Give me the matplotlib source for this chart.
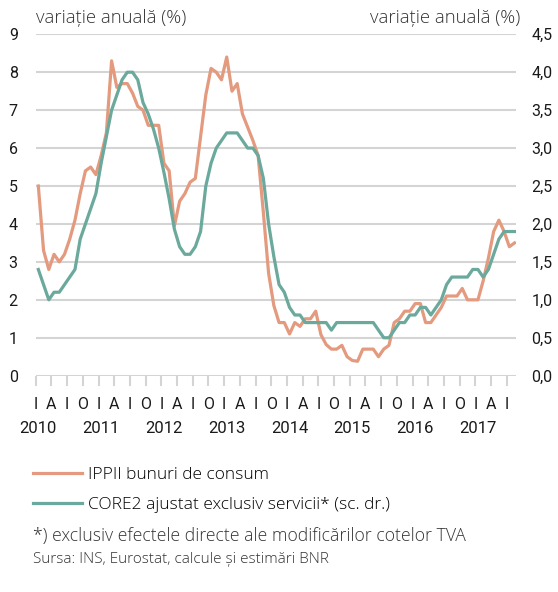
import matplotlib.pyplot as plt
from matplotlib.transforms import blended_transform_factory
import numpy as np

# monthly data, Jan 2010 - Aug 2017
ippii = [5.0, 3.3, 2.8, 3.2, 3.0, 3.2, 3.6, 4.1, 4.8, 5.4, 5.5, 5.3,
         5.8, 6.4, 8.3, 7.6, 7.7, 7.7, 7.45, 7.1, 7.0, 6.6, 6.6, 6.6,
         5.6, 5.4, 3.95, 4.6, 4.8, 5.1, 5.2, 6.3, 7.4, 8.1, 8.0, 7.8,
         8.4, 7.5, 7.7, 6.9, 6.55, 6.2, 5.8, 4.3, 2.7, 1.85, 1.4, 1.4,
         1.1, 1.4, 1.3, 1.5, 1.5, 1.7, 1.08, 0.82, 0.7, 0.7, 0.8, 0.5,
         0.4, 0.38, 0.7, 0.7, 0.7, 0.5, 0.7, 0.8, 1.4, 1.5, 1.7, 1.7,
         1.9, 1.9, 1.4, 1.4, 1.6, 1.8, 2.1, 2.1, 2.1, 2.3, 2.0, 2.0,
         2.0, 2.5, 3.1, 3.8, 4.1, 3.8, 3.4, 3.5]

core2 = [1.4, 1.2, 1.0, 1.1, 1.1, 1.2, 1.3, 1.4, 1.8, 2.0, 2.2, 2.4,
         2.8, 3.15, 3.5, 3.7, 3.9, 4.0, 4.0, 3.9, 3.6, 3.45, 3.25, 3.0,
         2.68, 2.33, 1.93, 1.7, 1.6, 1.6, 1.7, 1.9, 2.5, 2.8, 3.0, 3.1,
         3.2, 3.2, 3.2, 3.1, 3.0, 3.0, 2.9, 2.6, 2.0, 1.57, 1.2, 1.1,
         0.9, 0.8, 0.8, 0.7, 0.7, 0.7, 0.7, 0.7, 0.6, 0.7, 0.7, 0.7,
         0.7, 0.7, 0.7, 0.7, 0.7, 0.6, 0.5, 0.5, 0.6, 0.7, 0.7, 0.8,
         0.8, 0.9, 0.9, 0.8, 0.9, 1.0, 1.2, 1.3, 1.3, 1.3, 1.3, 1.4,
         1.4, 1.3, 1.4, 1.6, 1.8, 1.9, 1.9, 1.9]

quarter_labels = ["I", "A", "I", "O"]
years = ["2010", "2011", "2012", "2013", "2014", "2015", "2016", "2017"]
left_ticks = [0, 1, 2, 3, 4, 5, 6, 7, 8, 9]
right_ticks = [0.0, 0.5, 1.0, 1.5, 2.0, 2.5, 3.0, 3.5, 4.0, 4.5]

orange = "#e39a7e"
green = "#6aa99c"
grid_c = "#d4d4d4"
narrow = ["Roboto", "DejaVu Sans"]
light = ["Open Sans", "DejaVu Sans"]

fig = plt.figure(figsize=(5.58, 5.92), dpi=100)
ax = fig.add_axes([0.064, 0.3654, 0.861, 0.5767])
ax2 = ax.twinx()

x = np.arange(len(ippii))
l1, = ax.plot(x, ippii, color=orange, lw=2.3, label="IPPII bunuri de consum", zorder=3)
l2, = ax2.plot(x, core2, color=green, lw=2.3, label="CORE2 ajustat exclusiv servicii* (sc. dr.)", zorder=3)

ax.set_xlim(-0.5, 91.3)
ax.set_ylim(0, 9)
ax2.set_ylim(0, 4.5)

for a in (ax, ax2):
    for s in a.spines.values():
        s.set_visible(False)
ax.set_yticks(left_ticks)
ax.yaxis.grid(True, color=grid_c, lw=1.5)
ax.set_axisbelow(True)
ax.tick_params(axis="y", length=0, pad=13, labelsize=11.5, colors="#1a1a1a")
for t in ax.get_yticklabels():
    t.set_family(narrow)
ax2.set_yticks(right_ticks)
ax2.set_yticklabels([f"{v:.1f}".replace(".", ",") for v in right_ticks],
                    family=narrow)
ax2.tick_params(axis="y", length=0, pad=11, labelsize=11.5, colors="#1a1a1a")

qt = np.arange(-0.5, 90, 3)
ax.set_xticks(qt)
ax.set_xticklabels([quarter_labels[i % 4] for i in range(len(qt))], family=narrow)
ax.tick_params(axis="x", length=7, width=1.5, color=grid_c, pad=8,
               labelsize=11.5, labelcolor="#1a1a1a")

trans = blended_transform_factory(ax.transData, ax.transAxes)
for k, yr in enumerate(years):
    ax.text(12 * k, -0.155, yr, transform=trans, ha="center", va="center",
            fontsize=12, family=narrow, color="#1a1a1a")

ax.text(0.0, 1.02, "variație anuală (%)", transform=ax.transAxes, ha="left",
        va="bottom", fontsize=13.3, family=light, fontweight="light", color="#333333")
ax.text(1.008, 1.02, "variație anuală (%)", transform=ax.transAxes, ha="right",
        va="bottom", fontsize=13.3, family=light, fontweight="light", color="#333333")

fig.legend(handles=[l1, l2], loc="upper left", bbox_to_anchor=(0.032, 0.238),
           frameon=False, handlelength=2.8, handletextpad=0.35,
           labelspacing=0.8, prop={"family": light, "weight": "light", "size": 12.5})

fig.text(0.059, 0.095, "*) exclusiv efectele directe ale modificărilor cotelor TVA",
         fontsize=12.7, family=light, fontweight="light", color="#333333", va="center")
fig.text(0.059, 0.055, "Sursa: INS, Eurostat, calcule și estimări BNR",
         fontsize=11, family=light, fontweight="light", color="#333333", va="center")

fig.savefig("out.png", dpi=100)
